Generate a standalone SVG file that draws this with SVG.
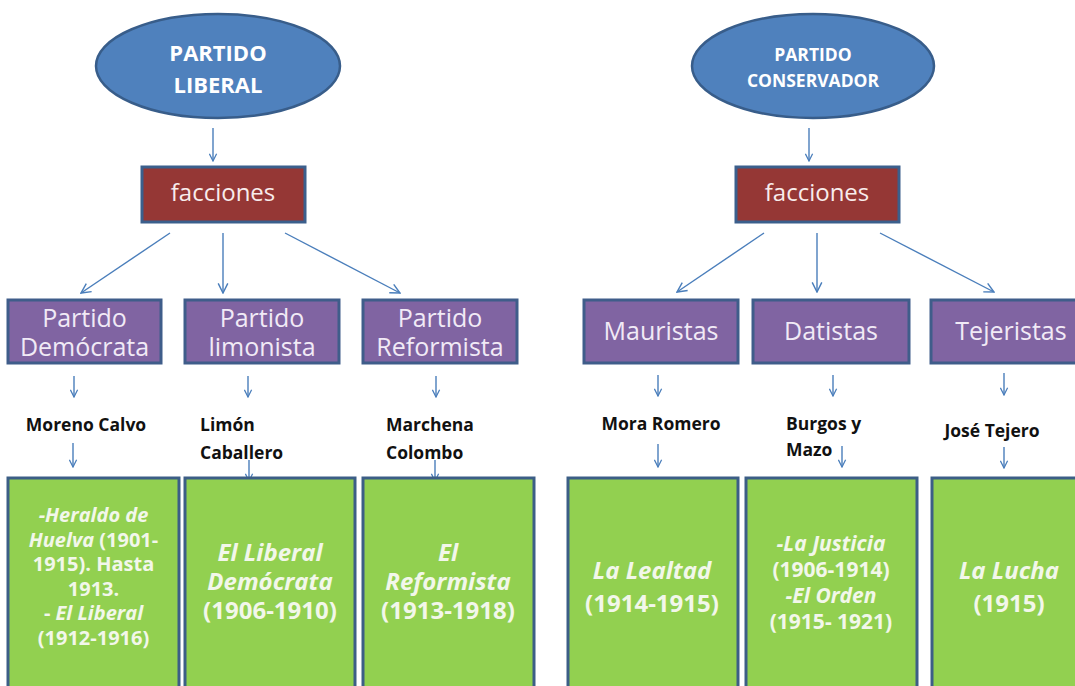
<svg xmlns="http://www.w3.org/2000/svg" width="1075" height="686" viewBox="0 0 1075 686">
<defs>
<marker id="ah" viewBox="0 0 10 10" refX="9" refY="5" markerWidth="9" markerHeight="9" markerUnits="userSpaceOnUse" orient="auto">
<path d="M1,1 L9,5 L1,9" fill="none" stroke="#4a7ebb" stroke-width="1.4"/>
</marker>
<marker id="ahl" viewBox="0 0 10 10" refX="9" refY="5" markerWidth="12" markerHeight="12" markerUnits="userSpaceOnUse" orient="auto">
<path d="M1,1 L9,5 L1,9" fill="none" stroke="#4a7ebb" stroke-width="1.2"/>
</marker>
</defs>
<style>
.ell{fill:#4f81bd;stroke:#385d8a;stroke-width:2.5}
.fac{fill:#953735;stroke:#3b5f8c;stroke-width:3}
.pur{fill:#8064a2;stroke:#3f5d8a;stroke-width:3}
.grn{fill:#92d050;stroke:#3c5e86;stroke-width:3}
.et{font-family:"Open Sans","DejaVu Sans",sans-serif;font-weight:bold;fill:#ffffff;text-anchor:middle}
.ft{font-family:"Open Sans","DejaVu Sans",sans-serif;font-size:24px;fill:#f8ecec;text-anchor:middle}
.pt{font-family:"Open Sans","DejaVu Sans",sans-serif;font-size:25px;fill:#f1eaf6;text-anchor:middle}
.nt{font-family:"Open Sans","DejaVu Sans",sans-serif;font-size:17.5px;font-weight:bold;fill:#111111}
.gt{font-family:"Open Sans","DejaVu Sans",sans-serif;font-weight:bold;fill:#f2f7ea;text-anchor:middle}
.i{font-style:italic}
.cn line{stroke:#4a7ebb;stroke-width:1.4;fill:none}
</style>
<rect x="0" y="0" width="1075" height="686" fill="#ffffff"/>

<g id="connectors" class="cn">
<line x1="213" y1="128" x2="213" y2="161" marker-end="url(#ah)"/>
<line x1="809" y1="128" x2="809" y2="161" marker-end="url(#ah)"/>
<line x1="170" y1="233" x2="81" y2="293" marker-end="url(#ahl)"/>
<line x1="223" y1="233" x2="223" y2="293" marker-end="url(#ahl)"/>
<line x1="285" y1="233" x2="400" y2="293" marker-end="url(#ahl)"/>
<line x1="764" y1="233" x2="677" y2="292" marker-end="url(#ahl)"/>
<line x1="817" y1="233" x2="817" y2="292" marker-end="url(#ahl)"/>
<line x1="880" y1="233" x2="994" y2="292" marker-end="url(#ahl)"/>
<line x1="74" y1="376" x2="74" y2="397" marker-end="url(#ah)"/>
<line x1="248" y1="376" x2="248" y2="397" marker-end="url(#ah)"/>
<line x1="436" y1="376" x2="436" y2="397" marker-end="url(#ah)"/>
<line x1="658" y1="375" x2="658" y2="396" marker-end="url(#ah)"/>
<line x1="833" y1="375" x2="833" y2="396" marker-end="url(#ah)"/>
<line x1="1004" y1="373" x2="1004" y2="395" marker-end="url(#ah)"/>
<line x1="73" y1="443" x2="73" y2="467" marker-end="url(#ah)"/>
<line x1="249" y1="460" x2="249" y2="481" marker-end="url(#ah)"/>
<line x1="435" y1="460" x2="435" y2="481" marker-end="url(#ah)"/>
<line x1="658" y1="444" x2="658" y2="467" marker-end="url(#ah)"/>
<line x1="842" y1="446" x2="842" y2="467" marker-end="url(#ah)"/>
<line x1="1004" y1="447" x2="1004" y2="468" marker-end="url(#ah)"/>
</g>

<g id="partido-liberal">
<ellipse class="ell" cx="218" cy="66" rx="122" ry="52"/>
<text class="et" x="218" y="61" font-size="22">PARTIDO</text>
<text class="et" x="218" y="93" font-size="22">LIBERAL</text>
</g>
<g id="partido-conservador">
<ellipse class="ell" cx="813" cy="66" rx="121" ry="52"/>
<text class="et" x="813" y="61" font-size="17.5">PARTIDO</text>
<text class="et" x="813" y="87" font-size="17.5">CONSERVADOR</text>
</g>

<g id="facciones-liberal">
<rect class="fac" x="142" y="167" width="163" height="55"/>
<text class="ft" x="223" y="201">facciones</text>
</g>
<g id="facciones-conservador">
<rect class="fac" x="736" y="167" width="163" height="55"/>
<text class="ft" x="817" y="201">facciones</text>
</g>

<g id="partido-democrata">
<rect class="pur" x="8" y="300" width="153" height="63"/>
<text class="pt" x="84.5" y="327">Partido</text>
<text class="pt" x="84.5" y="356">Demócrata</text>
</g>
<g id="partido-limonista">
<rect class="pur" x="185" y="300" width="154" height="63"/>
<text class="pt" x="262" y="327">Partido</text>
<text class="pt" x="262" y="356">limonista</text>
</g>
<g id="partido-reformista">
<rect class="pur" x="363" y="300" width="154" height="63"/>
<text class="pt" x="440" y="327">Partido</text>
<text class="pt" x="440" y="356">Reformista</text>
</g>
<g id="mauristas">
<rect class="pur" x="584" y="300" width="154" height="63"/>
<text class="pt" x="661" y="340">Mauristas</text>
</g>
<g id="datistas">
<rect class="pur" x="753" y="300" width="156" height="63"/>
<text class="pt" x="831" y="340">Datistas</text>
</g>
<g id="tejeristas">
<rect class="pur" x="931" y="300" width="160" height="63"/>
<text class="pt" x="1011" y="340">Tejeristas</text>
</g>

<g id="moreno-calvo"><text class="nt" x="86" y="431" text-anchor="middle">Moreno Calvo</text></g>
<g id="limon-caballero"><text class="nt" x="200" y="431">Limón</text><text class="nt" x="200" y="459">Caballero</text></g>
<g id="marchena-colombo"><text class="nt" x="386" y="431">Marchena</text><text class="nt" x="386" y="459">Colombo</text></g>
<g id="mora-romero"><text class="nt" x="661" y="430" text-anchor="middle">Mora Romero</text></g>
<g id="burgos-mazo"><text class="nt" x="786" y="430">Burgos y</text><text class="nt" x="786" y="456">Mazo</text></g>
<g id="jose-tejero"><text class="nt" x="992" y="437" text-anchor="middle">José Tejero</text></g>

<g id="prensa-democrata">
<rect class="grn" x="8" y="478" width="171" height="220"/>
<text class="gt" font-size="20" x="93.5" y="522"><tspan class="i">-Heraldo de</tspan></text>
<text class="gt" font-size="20" x="93.5" y="546.5"><tspan class="i">Huelva</tspan> (1901-</text>
<text class="gt" font-size="20" x="93.5" y="571">1915). Hasta</text>
<text class="gt" font-size="20" x="93.5" y="595.5">1913.</text>
<text class="gt" font-size="20" x="93.5" y="620">- <tspan class="i">El Liberal</tspan></text>
<text class="gt" font-size="20" x="93.5" y="644.5">(1912-1916)</text>
</g>
<g id="prensa-limonista">
<rect class="grn" x="185" y="478" width="170" height="220"/>
<text class="gt i" font-size="24" x="270" y="561">El Liberal</text>
<text class="gt i" font-size="24" x="270" y="590">Demócrata</text>
<text class="gt" font-size="24" x="270" y="619">(1906-1910)</text>
</g>
<g id="prensa-reformista">
<rect class="grn" x="363" y="478" width="171" height="220"/>
<text class="gt i" font-size="24" x="448" y="561">El</text>
<text class="gt i" font-size="24" x="448" y="590">Reformista</text>
<text class="gt" font-size="24" x="448" y="619">(1913-1918)</text>
</g>
<g id="prensa-maurista">
<rect class="grn" x="568" y="478" width="170" height="220"/>
<text class="gt i" font-size="24" x="652" y="579">La Lealtad</text>
<text class="gt" font-size="24" x="652" y="612">(1914-1915)</text>
</g>
<g id="prensa-datista">
<rect class="grn" x="746" y="478" width="171" height="220"/>
<text class="gt i" font-size="21" x="831" y="551">-La Justicia</text>
<text class="gt" font-size="21" x="831" y="577">(1906-1914)</text>
<text class="gt i" font-size="21" x="831" y="603">-El Orden</text>
<text class="gt" font-size="21" x="831" y="629">(1915- 1921)</text>
</g>
<g id="prensa-tejerista">
<rect class="grn" x="932" y="478" width="158" height="220"/>
<text class="gt i" font-size="24" x="1009" y="579">La Lucha</text>
<text class="gt" font-size="24" x="1009" y="612">(1915)</text>
</g>
</svg>
